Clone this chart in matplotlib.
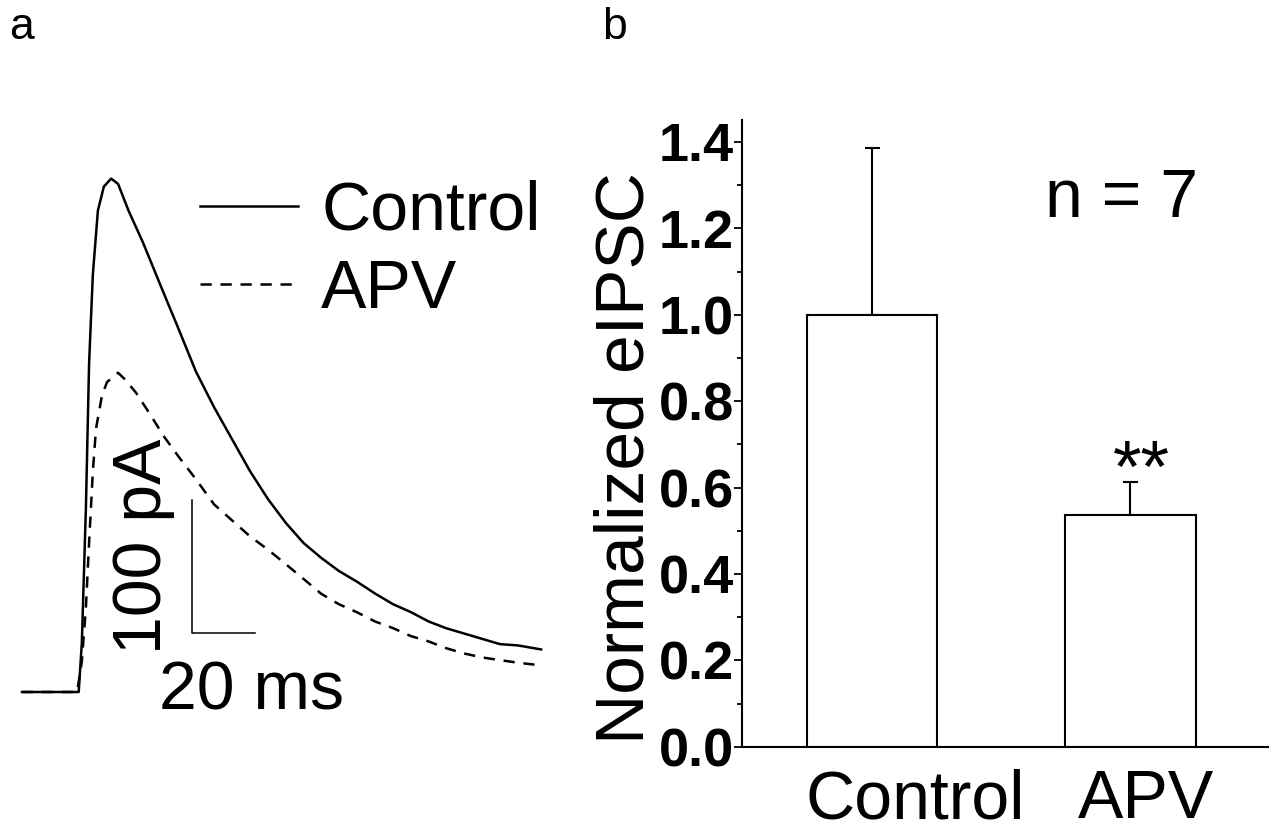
import matplotlib.pyplot as plt
from matplotlib.ticker import MultipleLocator

plt.rcParams['font.family'] = ['Liberation Sans', 'DejaVu Sans']

# panel a: traces (time in ms, current in pA)
ctrl_t = [0, 18.0, 19.0, 20.3, 21.3, 22.5, 24.1, 26.0, 28.3, 30.5, 33.8, 38.4, 44.1, 49.7,
          55.2, 61.0, 66.7, 72.4, 78.1, 83.8, 89.4, 94.9, 100.6, 106.3, 112.1, 117.8,
          123.5, 129.1, 134.6, 140.3, 146.0, 151.7, 157.5, 164.8]
ctrl_i = [0, 0, 37, 139, 247, 314, 362, 380, 386, 382, 362, 338, 305, 273,
          241, 214, 190, 166, 145, 127, 112, 101, 91, 83, 74, 66,
          60, 53, 48, 44, 40, 36, 35, 32]

apv_t = [0, 17.5, 19.0, 20.3, 21.3, 22.5, 23.5, 25.4, 27.0, 30.5, 32.7, 36.2, 40.6, 45.1,
         49.7, 55.2, 61.0, 66.7, 72.4, 78.1, 83.8, 89.4, 94.9, 100.6, 106.3, 112.1,
         117.8, 123.5, 129.1, 134.6, 140.3, 146.0, 151.7, 157.5, 164.8]
apv_i = [0, 0, 23, 64, 112, 166, 198, 223, 233, 240, 235, 225, 209, 192,
         177, 160, 141, 129, 117, 107, 96, 85, 74, 66, 60, 53,
         48, 42, 38, 33, 29, 26, 24, 22, 20]

# scale bar
bar_t0, bar_i0 = 53.9, 44.1
bar_ms, bar_pa = 20, 100

# panel b: normalized eIPSC
groups = ['Control', 'APV']
means = [1.0, 0.536]
sems = [0.385, 0.077]
n_cells = 7

fig = plt.figure(figsize=(12.69, 8.33), dpi=100)
W, H = 1269, 833

# ---- panel a
ax1 = fig.add_axes([0, 1 - 720 / H, 560 / W, 580 / H])
ax1.plot(ctrl_t, ctrl_i, color='black', lw=1.8, label='Control')
ax1.plot(apv_t, apv_i, color='black', lw=1.8, ls=(0, (4.5, 3.5)), label='APV')
ax1.plot([bar_t0, bar_t0, bar_t0 + bar_ms], [bar_i0 + bar_pa, bar_i0, bar_i0],
         color='black', lw=1.1)
ax1.text(38.5, 109.4, '100 pA', rotation=90, fontsize=49, ha='center', va='center')
ax1.text(73.0, -12.8, '20 ms', fontsize=49, ha='center', va='baseline')
ax1.set_xlim(-6.98, 170.8)
ax1.set_ylim(-21.05, 415.0)
ax1.axis('off')
ax1.legend(loc='upper left', bbox_to_anchor=(200 / W, 1 - 180 / H),
           bbox_transform=fig.transFigure, frameon=False, fontsize=49,
           handlelength=1.44, handletextpad=0.34, labelspacing=0.2,
           borderpad=0, borderaxespad=0)

# ---- panel b
ax2 = fig.add_axes([742 / W, 1 - 746.7 / H, (W - 742) / W, 626.7 / H])
x = [1, 2]
ax2.bar(x, means, width=0.505, color='white', edgecolor='black', linewidth=1.5, zorder=2)
ax2.errorbar(x, means, yerr=[[0, 0], sems], fmt='none', ecolor='black',
             elinewidth=1.5, capsize=5.4, capthick=1.5, zorder=1)
ax2.set_xlim(0.497, 2.536)
ax2.set_ylim(0, 1.4507)
ax2.yaxis.set_major_locator(MultipleLocator(0.2))
ax2.yaxis.set_minor_locator(MultipleLocator(0.1))
ax2.set_yticklabels([f'{v:.1f}' for v in ax2.get_yticks()])
for lbl in ax2.get_yticklabels():
    lbl.set_fontweight('bold')
    lbl.set_fontsize(39)
ax2.tick_params(axis='y', which='major', length=6, width=1.3, pad=0)
ax2.tick_params(axis='y', which='minor', length=3.6, width=1.3)
ax2.set_xticks([])
for s in ['top', 'right']:
    ax2.spines[s].set_visible(False)
ax2.spines['left'].set_linewidth(1.5)
ax2.spines['bottom'].set_linewidth(1.5)

ax2.text(1.166, -0.166, groups[0], fontsize=49, ha='center', va='baseline', clip_on=False)
ax2.text(2.06, -0.166, groups[1], fontsize=49, ha='center', va='baseline', clip_on=False)
ax2.text(1.669, 1.227, f'n = {n_cells}', fontsize=49, ha='left', va='baseline')
ax2.text(2.044, 0.636, '**', fontsize=53, ha='center', va='center')

fig.text(625 / W, 1 - 458 / H, 'Normalized eIPSC', rotation=90, fontsize=50,
         ha='center', va='center')

fig.text(9 / W, 1 - 39 / H, 'a', fontsize=32, va='baseline')
fig.text(602 / W, 1 - 39 / H, 'b', fontsize=32, va='baseline')

fig.savefig('out.png', dpi=100)
